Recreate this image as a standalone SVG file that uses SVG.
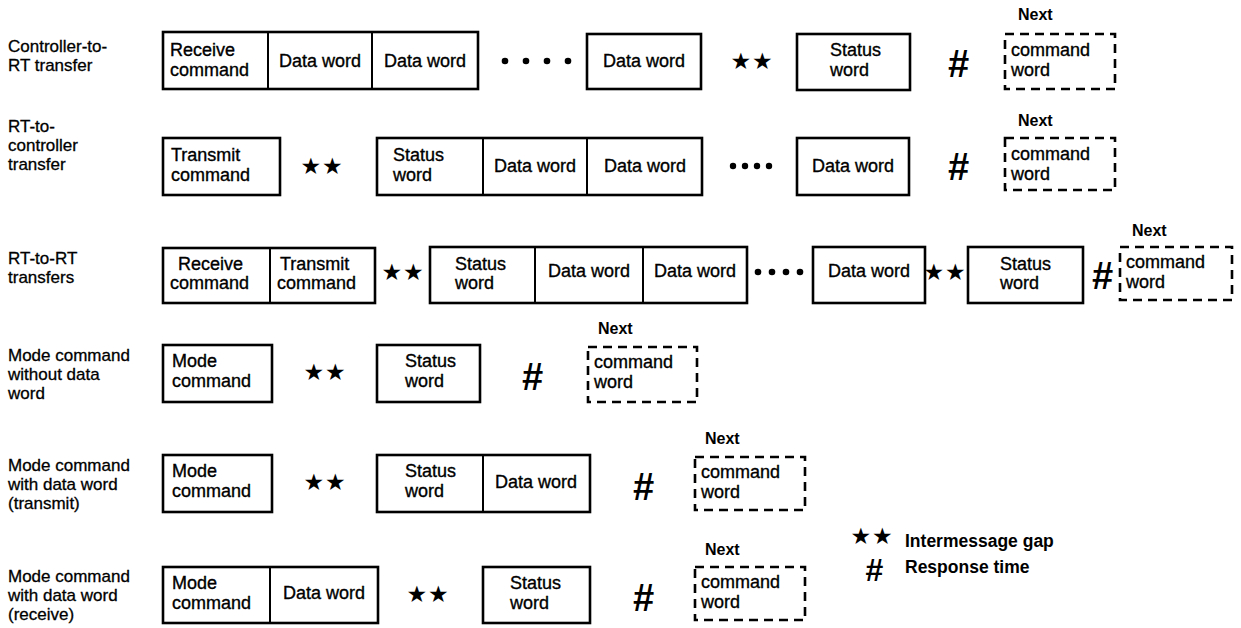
<svg xmlns="http://www.w3.org/2000/svg" width="1241" height="628" viewBox="0 0 1241 628">
<style>
.bg{fill:#fff}
.box{fill:#fff;stroke:#000;stroke-width:2.6}
.dash{fill:none;stroke:#000;stroke-width:2.6;stroke-dasharray:9 6}
.div{stroke:#000;stroke-width:2}
.dot{fill:#000}
text{font-family:"Liberation Sans",Arial,sans-serif;fill:#000}
.lbl{font-size:17px;stroke:#000;stroke-width:0.3}
.t{font-size:18px;stroke:#000;stroke-width:0.35}
.c{text-anchor:middle}
.nx{font-size:16px;font-weight:bold}
.star{font-family:"DejaVu Sans",sans-serif;font-size:23px;text-anchor:middle;letter-spacing:1px}
.hash{font-size:38px;font-weight:bold;font-style:italic;text-anchor:middle}
.lhash{font-size:32px}
.leg{font-size:17.5px;font-weight:bold}
</style>
<rect class="bg" x="0" y="0" width="1241" height="628"/>

<!-- Row 1 -->
<g id="row1">
<text class="lbl" x="8" y="52">Controller-to-</text>
<text class="lbl" x="8" y="71">RT transfer</text>
<g id="r1-block1">
<rect class="box" x="163" y="32" width="315" height="57"/>
<line class="div" x1="268" y1="32" x2="268" y2="89"/>
<line class="div" x1="372" y1="32" x2="372" y2="89"/>
<text class="t" x="170" y="56">Receive</text>
<text class="t" x="170" y="76">command</text>
<text class="t c" x="320" y="67">Data word</text>
<text class="t c" x="425" y="67">Data word</text>
</g>
<g id="r1-dots"><circle class="dot" cx="505" cy="61" r="3.3"/><circle class="dot" cx="526" cy="61" r="3.3"/><circle class="dot" cx="547" cy="61" r="3.3"/><circle class="dot" cx="568" cy="61" r="3.3"/></g>
<g id="r1-data"><rect class="box" x="587" y="34" width="114" height="55"/><text class="t c" x="644" y="67">Data word</text></g>
<text class="star" x="752" y="69">★★</text>
<g id="r1-status"><rect class="box" x="797" y="34" width="113" height="56"/><text class="t" x="830" y="56">Status</text><text class="t" x="830" y="76">word</text></g>
<text class="hash" x="958" y="77">#</text>
<g id="r1-next"><text class="nx" x="1018" y="20">Next</text><rect class="dash" x="1005" y="34" width="110" height="55"/><text class="t" x="1011" y="56">command</text><text class="t" x="1011" y="76">word</text></g>
</g>

<!-- Row 2 -->
<g id="row2">
<text class="lbl" x="8" y="132">RT-to-</text>
<text class="lbl" x="8" y="151">controller</text>
<text class="lbl" x="8" y="170">transfer</text>
<g id="r2-transmit"><rect class="box" x="163" y="138" width="117" height="57"/><text class="t" x="171" y="161">Transmit</text><text class="t" x="171" y="181">command</text></g>
<text class="star" x="322" y="174">★★</text>
<g id="r2-block">
<rect class="box" x="377" y="138" width="325" height="57"/>
<line class="div" x1="483" y1="138" x2="483" y2="195"/>
<line class="div" x1="587" y1="138" x2="587" y2="195"/>
<text class="t" x="393" y="161">Status</text><text class="t" x="393" y="181">word</text>
<text class="t c" x="535" y="172">Data word</text>
<text class="t c" x="645" y="172">Data word</text>
</g>
<g id="r2-dots"><circle class="dot" cx="733" cy="166" r="3.2"/><circle class="dot" cx="745" cy="166" r="3.2"/><circle class="dot" cx="757" cy="166" r="3.2"/><circle class="dot" cx="769" cy="166" r="3.2"/></g>
<g id="r2-data"><rect class="box" x="797" y="138" width="112" height="57"/><text class="t c" x="853" y="172">Data word</text></g>
<text class="hash" x="958" y="180">#</text>
<g id="r2-next"><text class="nx" x="1018" y="126">Next</text><rect class="dash" x="1005" y="138" width="110" height="52"/><text class="t" x="1011" y="160">command</text><text class="t" x="1011" y="180">word</text></g>
</g>

<!-- Row 3 -->
<g id="row3">
<text class="lbl" x="8" y="264">RT-to-RT</text>
<text class="lbl" x="8" y="283">transfers</text>
<g id="r3-block1">
<rect class="box" x="163" y="248" width="212" height="55"/>
<line class="div" x1="270" y1="248" x2="270" y2="303"/>
<text class="t" x="178" y="270">Receive</text><text class="t" x="170" y="289">command</text>
<text class="t" x="280" y="270">Transmit</text><text class="t" x="277" y="289">command</text>
</g>
<text class="star" x="403" y="280">★★</text>
<g id="r3-block2">
<rect class="box" x="430" y="247" width="317" height="56"/>
<line class="div" x1="535" y1="247" x2="535" y2="303"/>
<line class="div" x1="643" y1="247" x2="643" y2="303"/>
<text class="t" x="455" y="270">Status</text><text class="t" x="455" y="289">word</text>
<text class="t c" x="589" y="277">Data word</text>
<text class="t c" x="695" y="277">Data word</text>
</g>
<g id="r3-dots"><circle class="dot" cx="758" cy="272" r="3.3"/><circle class="dot" cx="772" cy="272" r="3.3"/><circle class="dot" cx="786" cy="272" r="3.3"/><circle class="dot" cx="800" cy="272" r="3.3"/></g>
<g id="r3-data"><rect class="box" x="813" y="247" width="112" height="56"/><text class="t c" x="869" y="277">Data word</text></g>
<text class="star" x="945" y="280">★★</text>
<g id="r3-status"><rect class="box" x="968" y="247" width="115" height="56"/><text class="t" x="1000" y="270">Status</text><text class="t" x="1000" y="289">word</text></g>
<text class="hash" x="1102" y="289">#</text>
<g id="r3-next"><text class="nx" x="1132" y="236">Next</text><rect class="dash" x="1120" y="247" width="112" height="53"/><text class="t" x="1126" y="268">command</text><text class="t" x="1126" y="288">word</text></g>
</g>

<!-- Row 4 -->
<g id="row4">
<text class="lbl" x="8" y="361">Mode command</text>
<text class="lbl" x="8" y="380">without data</text>
<text class="lbl" x="8" y="399">word</text>
<g id="r4-mode"><rect class="box" x="163" y="345" width="109" height="57"/><text class="t" x="172" y="367">Mode</text><text class="t" x="172" y="387">command</text></g>
<text class="star" x="325" y="380">★★</text>
<g id="r4-status"><rect class="box" x="377" y="345" width="103" height="57"/><text class="t" x="405" y="367">Status</text><text class="t" x="405" y="387">word</text></g>
<text class="hash" x="532" y="390">#</text>
<g id="r4-next"><text class="nx" x="598" y="334">Next</text><rect class="dash" x="588" y="347" width="109" height="55"/><text class="t" x="594" y="368">command</text><text class="t" x="594" y="388">word</text></g>
</g>

<!-- Row 5 -->
<g id="row5">
<text class="lbl" x="8" y="471">Mode command</text>
<text class="lbl" x="8" y="490">with data word</text>
<text class="lbl" x="8" y="509">(transmit)</text>
<g id="r5-mode"><rect class="box" x="163" y="455" width="109" height="57"/><text class="t" x="172" y="477">Mode</text><text class="t" x="172" y="497">command</text></g>
<text class="star" x="325" y="490">★★</text>
<g id="r5-block">
<rect class="box" x="377" y="455" width="213" height="57"/>
<line class="div" x1="483" y1="455" x2="483" y2="512"/>
<text class="t" x="405" y="477">Status</text><text class="t" x="405" y="497">word</text>
<text class="t c" x="536" y="488">Data word</text>
</g>
<text class="hash" x="643" y="500">#</text>
<g id="r5-next"><text class="nx" x="705" y="444">Next</text><rect class="dash" x="695" y="457" width="110" height="53"/><text class="t" x="701" y="478">command</text><text class="t" x="701" y="498">word</text></g>
</g>

<!-- Row 6 -->
<g id="row6">
<text class="lbl" x="8" y="582">Mode command</text>
<text class="lbl" x="8" y="601">with data word</text>
<text class="lbl" x="8" y="620">(receive)</text>
<g id="r6-block">
<rect class="box" x="163" y="567" width="215" height="56"/>
<line class="div" x1="270" y1="567" x2="270" y2="623"/>
<text class="t" x="172" y="589">Mode</text><text class="t" x="172" y="609">command</text>
<text class="t c" x="324" y="599">Data word</text>
</g>
<text class="star" x="428" y="602">★★</text>
<g id="r6-status"><rect class="box" x="483" y="567" width="107" height="56"/><text class="t" x="510" y="589">Status</text><text class="t" x="510" y="609">word</text></g>
<text class="hash" x="643" y="611">#</text>
<g id="r6-next"><text class="nx" x="705" y="555">Next</text><rect class="dash" x="695" y="567" width="110" height="53"/><text class="t" x="701" y="588">command</text><text class="t" x="701" y="608">word</text></g>
</g>

<!-- Legend -->
<g id="legend">
<text class="star" x="872" y="544">★★</text>
<text class="leg" x="905" y="547">Intermessage gap</text>
<text class="hash lhash" x="874" y="581">#</text>
<text class="leg" x="905" y="573">Response time</text>
</g>
<g id="connectors"></g>
</svg>
